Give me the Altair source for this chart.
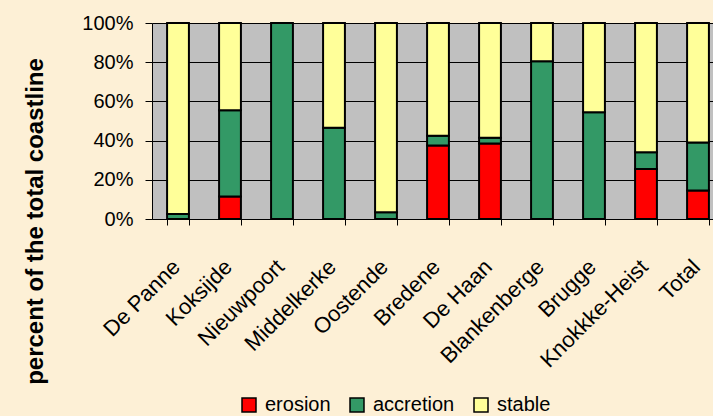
import altair as alt
import pandas as pd

categories = ["De Panne", "Koksijde", "Nieuwpoort", "Middelkerke", "Oostende", "Bredene",
              "De Haan", "Blankenberge", "Brugge", "Knokkke-Heist", "Total"]
erosion = [0, 11.5, 0, 0, 0, 37.5, 38.5, 0, 0, 25.5, 14.5]
accretion = [2.5, 44, 100, 46.5, 3.5, 5, 3, 80.5, 54.5, 8.5, 24.5]
stable = [97.5, 44.5, 0, 53.5, 96.5, 57.5, 58.5, 19.5, 45.5, 66, 61]
series = ["erosion", "accretion", "stable"]
colors = ["#FF0000", "#339966", "#FFFF99"]
y_ticks = [0, 0.2, 0.4, 0.6, 0.8, 1.0]

rows = []
for i, c in enumerate(categories):
    for k, (s, vals) in enumerate(zip(series, [erosion, accretion, stable])):
        if vals[i] > 0:
            rows.append({"category": c, "series": s, "value": vals[i] / 100.0, "order": k})
df = pd.DataFrame(rows)

FONT = "Liberation Sans"

chart = alt.Chart(df).mark_bar(stroke="black", strokeWidth=2).encode(
    x=alt.X("category:N", sort=categories,
            scale=alt.Scale(range=[0, 572], paddingInner=0.58, paddingOuter=0.29),
            axis=alt.Axis(title=None, labelAngle=-45, labelAlign="right", labelBaseline="middle",
                          labelPadding=38, labelOffset=-2, tickBand="extent", tickSize=6,
                          tickColor="black", domainColor="black", labelFontSize=22,
                          labelFont=FONT, labelColor="black", grid=False, labelOverlap=False,
                          labelBound=False)),
    y=alt.Y("value:Q", stack="zero", scale=alt.Scale(domain=[0, 1], nice=False),
            axis=alt.Axis(format="%", values=y_ticks, title="percent of the total coastline",
                          titleFontSize=24, titleFontWeight="bold", titleFont=FONT,
                          titleColor="black", titleX=-117, titleY=198, titleAngle=-90,
                          titleAlign="center", titleBaseline="middle",
                          tickSize=7, tickColor="black", labelPadding=12, labelFontSize=20,
                          labelFont=FONT, labelColor="black", gridColor="black", gridWidth=1,
                          domainColor="black")),
    color=alt.Color("series:N", scale=alt.Scale(domain=series, range=colors),
                    legend=alt.Legend(title=None, orient="none", legendX=87, legendY=372,
                                      direction="horizontal", symbolType="square",
                                      symbolSize=196, symbolStrokeColor="black",
                                      symbolStrokeWidth=1.5, symbolOpacity=1,
                                      labelFontSize=20, labelFont=FONT, labelColor="black",
                                      labelOffset=6, columnPadding=16, padding=0)),
    order=alt.Order("order:Q"),
).properties(
    width=561, height=196,
    autosize=alt.AutoSizeParams(type="none"),
    padding={"left": 152, "top": 23, "right": 0, "bottom": 197},
    background="#FDF0D6",
).configure_view(fill="#C0C0C0", strokeWidth=0)

chart.save("out.html", embed_options={"renderer": "svg", "actions": False})
